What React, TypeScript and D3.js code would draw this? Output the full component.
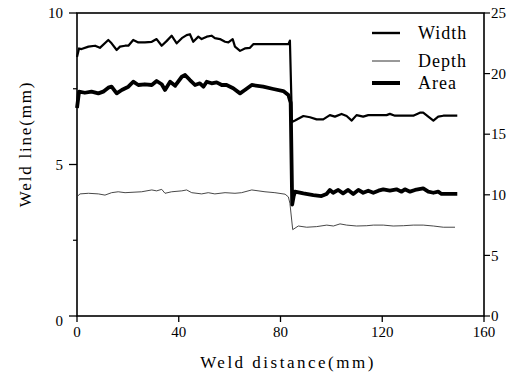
import React from 'react';
import * as d3 from 'd3';

// Weld distance (mm) / value pairs
const widthSeries: [number, number][] = [
  [0, 8.55], [0.8, 8.83], [1.8, 8.81], [4.5, 8.89], [7.1, 8.92], [9.0, 8.85], [12.3, 9.11], [13.6, 9.0],
  [15.6, 8.78], [16.9, 8.89], [18.9, 8.92], [20.2, 8.92], [22.1, 9.11], [24.1, 9.03], [26.7, 9.03],
  [29.4, 9.05], [31.3, 9.14], [33.3, 8.92], [35.3, 9.08], [37.2, 9.25], [39.2, 9.0], [41.2, 9.17],
  [43.1, 9.27], [44.4, 9.3], [45.7, 9.05], [47.7, 9.22], [49.0, 9.14], [51.0, 9.22], [52.9, 9.25],
  [54.2, 9.17], [56.2, 9.14], [58.2, 9.05], [59.5, 9.03], [61.2, 9.14], [62.1, 8.89], [64.1, 8.75],
  [66.0, 8.83], [68.0, 8.85], [69.3, 8.97], [74.6, 8.97], [79.8, 8.97], [83.1, 8.97], [83.7, 9.09],
  [84.5, 6.4], [85.7, 6.45], [89.0, 6.6], [91.6, 6.56], [94.2, 6.49], [96.8, 6.49], [99.4, 6.63],
  [101.4, 6.58], [104.0, 6.67], [106.0, 6.6], [108.0, 6.45], [109.9, 6.63], [112.5, 6.58], [114.5, 6.63],
  [117.8, 6.63], [121.7, 6.63], [123.0, 6.67], [125.0, 6.61], [132.2, 6.61], [134.8, 6.71], [136.1, 6.71],
  [138.1, 6.58], [140.1, 6.45], [142.0, 6.58], [144.0, 6.61], [149.5, 6.61],
];

const depthSeries: [number, number][] = [
  [0, 3.94], [1.2, 4.03], [4.5, 4.05], [8.4, 4.03], [11.0, 3.99], [13.6, 4.07], [16.2, 4.1], [18.9, 4.07],
  [25.4, 4.1], [29.4, 4.16], [31.3, 4.13], [33.3, 4.18], [34.6, 4.05], [37.2, 4.1], [41.2, 4.13],
  [43.1, 4.16], [45.1, 4.07], [49.0, 4.03], [51.6, 4.07], [54.2, 4.03], [58.2, 4.07], [62.1, 4.05],
  [64.7, 4.07], [68.7, 4.16], [73.9, 4.1], [77.8, 4.07], [81.8, 4.02], [83.1, 3.93], [83.7, 3.72],
  [84.8, 2.85], [87.0, 2.97], [90.3, 2.93], [94.2, 2.95], [98.2, 3.0], [100.8, 2.97], [103.4, 3.04],
  [106.0, 3.0], [109.9, 2.97], [113.9, 2.98], [116.5, 3.0], [120.4, 3.0], [124.3, 2.97], [128.3, 2.98],
  [132.2, 3.0], [136.1, 3.0], [140.1, 2.97], [144.0, 2.93], [148.6, 2.93],
];

const areaSeries: [number, number][] = [
  [0, 17.16], [0.8, 18.51], [3.1, 18.42], [5.7, 18.51], [8.4, 18.37], [10.3, 18.51], [12.3, 18.84],
  [13.6, 18.92], [15.6, 18.37], [17.6, 18.65], [20.2, 18.92], [22.1, 19.33], [24.1, 19.06], [26.7, 19.12],
  [29.4, 19.06], [31.3, 19.39], [33.3, 19.12], [34.6, 18.65], [36.6, 19.33], [38.6, 19.0], [41.2, 19.74],
  [42.5, 19.88], [44.4, 19.47], [46.4, 19.06], [48.3, 19.2], [49.7, 18.92], [51.0, 19.33], [52.9, 19.2],
  [54.9, 19.28], [56.9, 19.06], [58.8, 19.06], [61.4, 18.79], [64.1, 18.37], [66.0, 18.65], [68.7, 19.06],
  [73.2, 18.92], [77.2, 18.73], [81.1, 18.56], [83.1, 18.23], [84.0, 17.6], [84.6, 9.2], [85.2, 9.9],
  [85.7, 10.26], [89.0, 10.12], [92.9, 9.98], [96.1, 9.9], [98.1, 10.07], [99.4, 10.4], [100.7, 10.17],
  [102.7, 10.4], [104.6, 10.12], [106.6, 10.4], [108.6, 10.07], [110.6, 10.4], [112.5, 10.17],
  [114.5, 10.34], [116.5, 10.17], [118.5, 10.34], [120.4, 10.45], [123.0, 10.34], [125.6, 10.45],
  [127.6, 10.26], [128.9, 10.45], [130.9, 10.26], [132.9, 10.4], [136.1, 10.53], [138.1, 10.26],
  [140.1, 10.17], [142.0, 10.26], [143.3, 10.07], [149.5, 10.07],
];

const xTicks = [0, 40, 80, 120, 160];
const leftTicks = [0, 5, 10];
const leftMinorTicks = [2.5, 7.5];
const rightTicks = [0, 5, 10, 15, 20, 25];
const legendItems = ['Width', 'Depth', 'Area'];

const FONT = '"Liberation Serif", "DejaVu Serif", serif';

export default function App() {
  const x = d3.scaleLinear().domain([0, 160]).range([77, 484]);
  const yL = d3.scaleLinear().domain([0, 10]).range([316, 13]);
  const yR = d3.scaleLinear().domain([0, 25]).range([316, 13]);

  const lineL = d3.line<[number, number]>().x((d) => x(d[0])).y((d) => yL(d[1]));
  const lineR = d3.line<[number, number]>().x((d) => x(d[0])).y((d) => yR(d[1]));

  const styles = [
    { stroke: '#000', width: 2.2 },
    { stroke: '#333', width: 0.9 },
    { stroke: '#000', width: 3.8 },
  ];
  const legendY = [33, 61, 83];

  return (
    <svg
      width={521}
      height={378}
      style={{ position: 'absolute', left: 0, top: 0, background: '#fff' }}
      fontFamily={FONT}
    >
      <rect x={0} y={0} width={521} height={378} fill="#fff" />
      {/* frame */}
      <rect x={x(0)} y={yL(10)} width={x(160) - x(0)} height={yL(0) - yL(10)} fill="none" stroke="#000" strokeWidth={1.6} />

      {/* bottom ticks */}
      {xTicks.map((t) => (
        <g key={'xt' + t}>
          <line x1={x(t)} x2={x(t)} y1={yL(0)} y2={yL(0) + 6} stroke="#000" strokeWidth={1.3} />
          <text x={x(t)} y={yL(0) + 21} textAnchor="middle" fontSize={15} fill="#000">{t}</text>
        </g>
      ))}

      {/* left ticks */}
      {leftTicks.map((t) => (
        <g key={'lt' + t}>
          <line x1={x(0) - 8} x2={x(0)} y1={yL(t)} y2={yL(t)} stroke="#000" strokeWidth={1.3} />
          <text x={63} y={yL(t) + (t === 0 ? 5 : 0)} dy="0.35em" textAnchor="end" fontSize={15} fill="#000">{t}</text>
        </g>
      ))}
      {leftMinorTicks.map((t) => (
        <line key={'lm' + t} x1={x(0) - 4} x2={x(0)} y1={yL(t)} y2={yL(t)} stroke="#000" strokeWidth={1.2} />
      ))}

      {/* right ticks */}
      {rightTicks.map((t) => (
        <g key={'rt' + t}>
          <line x1={x(160)} x2={x(160) + 6} y1={yR(t)} y2={yR(t)} stroke="#000" strokeWidth={1.2} />
          <text x={491} y={yR(t)} dy="0.35em" textAnchor="start" fontSize={15} fill="#000">{t}</text>
        </g>
      ))}

      {/* series */}
      <path d={lineL(depthSeries) || ''} fill="none" stroke={styles[1].stroke} strokeWidth={styles[1].width} strokeLinejoin="round" />
      <path d={lineL(widthSeries) || ''} fill="none" stroke={styles[0].stroke} strokeWidth={styles[0].width} strokeLinejoin="round" />
      <path d={lineR(areaSeries) || ''} fill="none" stroke={styles[2].stroke} strokeWidth={styles[2].width} strokeLinejoin="round" />

      {/* legend */}
      {legendItems.map((name, i) => (
        <g key={name}>
          <line x1={372} x2={400} y1={legendY[i]} y2={legendY[i]} stroke={styles[i].stroke} strokeWidth={i === 1 ? 1 : i === 0 ? 2.4 : 4} />
          <text x={418} y={legendY[i] + 6} fontSize={18} letterSpacing={1} fill="#000">{name}</text>
        </g>
      ))}

      {/* axis titles */}
      <text x={288} y={368} textAnchor="middle" fontSize={17} letterSpacing={2.5} fill="#000">Weld distance(mm)</text>
      <text transform="translate(31,144) rotate(-90)" textAnchor="middle" fontSize={17} letterSpacing={1.8} fill="#000">Weld line(mm)</text>
    </svg>
  );
}
